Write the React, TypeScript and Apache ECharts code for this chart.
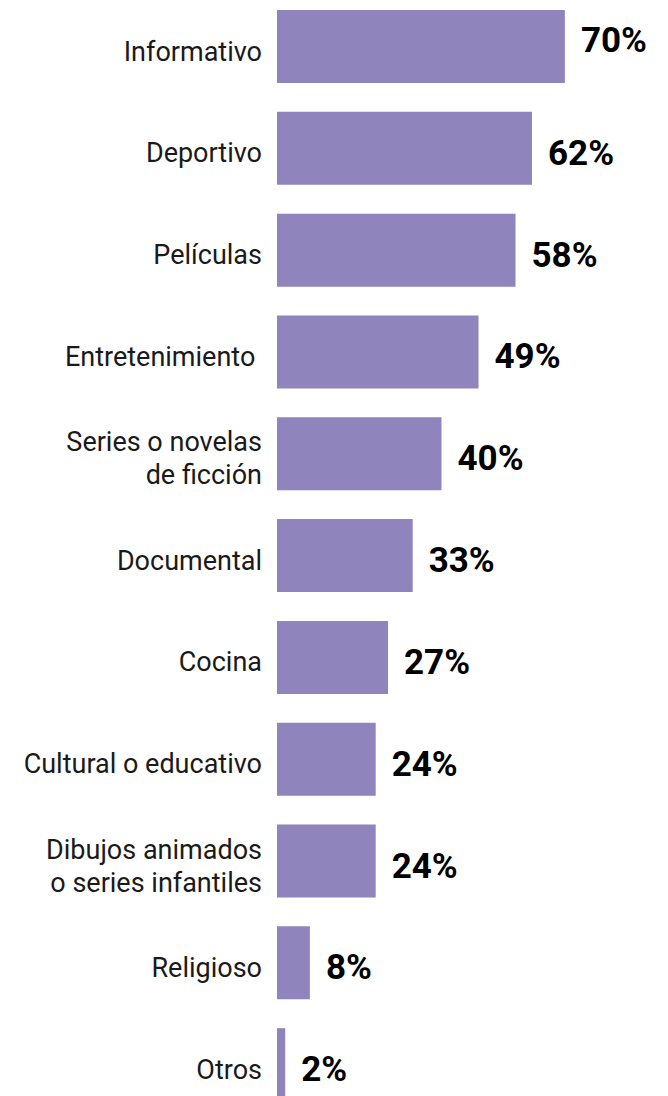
import React, { useEffect, useRef } from "react";
import * as echarts from "echarts";

const categories: string[] = [
  "Informativo",
  "Deportivo",
  "Películas",
  "Entretenimiento ",
  "Series o novelas\nde ficción",
  "Documental",
  "Cocina",
  "Cultural o educativo",
  "Dibujos animados\no series infantiles",
  "Religioso",
  "Otros",
];

const values: number[] = [70, 62, 58, 49, 40, 33, 27, 24, 24, 8, 2];

export default function App() {
  const ref = useRef<HTMLDivElement>(null);

  useEffect(() => {
    if (!ref.current) return;
    const chart = echarts.init(ref.current, undefined, { renderer: "svg" });
    const barData = values.map((v, i) =>
      i === 0 ? { value: v, label: { offset: [0, -6] } } : { value: v }
    );
    chart.setOption({
      animation: false,
      backgroundColor: "#ffffff",
      grid: {
        left: 277,
        width: 329,
        top: -4.4,
        height: 1120,
        outerBoundsMode: "none",
        containLabel: false,
      },
      xAxis: {
        type: "value",
        min: 0,
        max: 80,
        show: false,
      },
      yAxis: {
        type: "category",
        data: categories,
        inverse: true,
        axisLine: { show: false },
        axisTick: { show: false },
        splitLine: { show: false },
        axisLabel: {
          margin: 15,
          align: "right",
          formatter: (v: string) =>
            "{s| }\n" + v.split("\n").map((s) => `{a|${s}}`).join("\n"),
          rich: {
            s: { fontSize: 1, lineHeight: 10 },
            a: {
              fontFamily: "Roboto",
              fontSize: 27,
              color: "#1a1a1a",
              lineHeight: 33,
              align: "right",
            },
          },
        },
      },
      series: [
        {
          type: "bar",
          data: barData,
          barWidth: 73,
          itemStyle: { color: "#9084bc" },
          label: {
            show: true,
            position: "right",
            distance: 16,
            offset: [0, 5],
            formatter: "{c}%",
            fontFamily: "Roboto",
            fontWeight: "bold",
            fontSize: 35,
            color: "#000000",
          },
        },
      ],
    });
    return () => chart.dispose();
  }, []);

  return (
    <div
      ref={ref}
      style={{ position: "absolute", left: 0, top: 0, width: 668, height: 1096 }}
    />
  );
}
